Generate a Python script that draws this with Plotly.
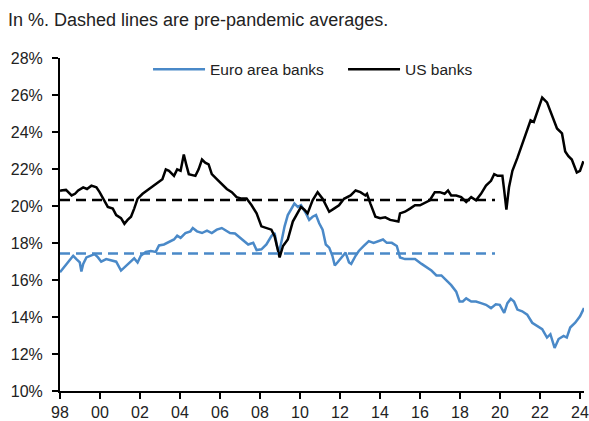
import plotly.graph_objects as go

# ---------------- data ----------------
us_t = [1998.0, 1998.05, 1998.3, 1998.58, 1998.75, 1998.91, 1999.16, 1999.35, 1999.57, 1999.82,
        1999.98, 2000.15, 2000.39, 2000.64, 2000.81, 2001.05, 2001.22, 2001.38, 2001.55, 2001.71,
        2001.88, 2002.13, 2002.46, 2002.79, 2003.12, 2003.29, 2003.45, 2003.7, 2003.86, 2004.03,
        2004.11, 2004.19, 2004.31, 2004.44, 2004.77, 2004.93, 2005.1, 2005.26, 2005.43, 2005.59,
        2005.84, 2006.09, 2006.34, 2006.59, 2006.83, 2007.08, 2007.33, 2007.58, 2007.83, 2008.07,
        2008.32, 2008.57, 2008.73, 2008.9, 2008.98, 2009.15, 2009.39, 2009.64, 2009.89, 2010.05,
        2010.22, 2010.38, 2010.63, 2010.88, 2011.13, 2011.46, 2011.7, 2011.95, 2012.2, 2012.53,
        2012.78, 2013.02, 2013.27, 2013.35, 2013.52, 2013.77, 2014.01, 2014.26, 2014.51, 2014.76,
        2014.92, 2015.0, 2015.25, 2015.5, 2015.75, 2016.0, 2016.24, 2016.49, 2016.74, 2016.99,
        2017.23, 2017.4, 2017.56, 2017.81, 2018.06, 2018.31, 2018.56, 2018.8, 2019.05, 2019.3,
        2019.55, 2019.71, 2019.88, 2020.12, 2020.21, 2020.32, 2020.45, 2020.62, 2020.87, 2021.11,
        2021.36, 2021.53, 2021.69, 2021.86, 2022.11, 2022.35, 2022.6, 2022.85, 2023.1, 2023.26,
        2023.42, 2023.59, 2023.84, 2024.0, 2024.17]
us_v = [20.8, 20.84, 20.87, 20.57, 20.66, 20.84, 21.01, 20.92, 21.1, 21.01,
        20.75, 20.4, 19.95, 19.86, 19.51, 19.34, 19.04, 19.25, 19.42, 19.86,
        20.4, 20.66, 20.92, 21.19, 21.45, 21.98, 21.9, 21.63, 21.98, 21.9,
        22.34, 22.78, 22.25, 21.72, 21.63, 21.98, 22.51, 22.34, 22.25, 21.72,
        21.45, 21.19, 20.92, 20.75, 20.48, 20.4, 20.4, 20.04, 19.6, 18.9,
        18.81, 18.72, 18.37, 17.57, 17.22, 17.84, 18.19, 19.16, 19.6, 19.95,
        19.8, 19.6, 20.31, 20.75, 20.39, 19.69, 19.86, 20.04, 20.39, 20.57,
        20.84, 20.75, 20.57, 20.66, 20.13, 19.42, 19.34, 19.39, 19.25, 19.21,
        19.16, 19.6, 19.69, 19.86, 20.04, 20.04, 20.16, 20.31, 20.75, 20.75,
        20.66, 20.84, 20.57, 20.57, 20.48, 20.22, 20.48, 20.31, 20.66, 21.1,
        21.36, 21.72, 21.63, 21.63, 20.84, 19.81, 21.01, 21.9, 22.6, 23.31,
        24.01, 24.63, 24.54, 25.07, 25.86, 25.6, 24.89, 24.19, 23.92, 22.95,
        22.69, 22.51, 21.81, 21.9, 22.42]

ea_t = [1998.0, 1998.25, 1998.49, 1998.66, 1998.82, 1998.99, 1999.07, 1999.16, 1999.32, 1999.49,
        1999.73, 1999.9, 2000.06, 2000.31, 2000.56, 2000.81, 2001.05, 2001.22, 2001.47, 2001.71,
        2001.88, 2002.04, 2002.29, 2002.54, 2002.79, 2002.95, 2003.2, 2003.45, 2003.7, 2003.86,
        2004.03, 2004.27, 2004.52, 2004.64, 2004.85, 2005.1, 2005.35, 2005.59, 2005.84, 2006.09,
        2006.34, 2006.5, 2006.75, 2007.0, 2007.16, 2007.41, 2007.66, 2007.83, 2008.07, 2008.32,
        2008.57, 2008.73, 2008.85, 2008.95, 2009.06, 2009.23, 2009.39, 2009.56, 2009.72, 2009.89,
        2010.05, 2010.3, 2010.46, 2010.63, 2010.8, 2010.96, 2011.13, 2011.29, 2011.46, 2011.62,
        2011.74, 2011.87, 2012.12, 2012.28, 2012.45, 2012.56, 2012.78, 2012.94, 2013.19, 2013.44,
        2013.68, 2013.93, 2014.15, 2014.34, 2014.59, 2014.84, 2015.0, 2015.25, 2015.5, 2015.75,
        2016.08, 2016.33, 2016.57, 2016.82, 2017.07, 2017.32, 2017.56, 2017.81, 2017.98, 2018.14,
        2018.31, 2018.56, 2018.8, 2019.05, 2019.3, 2019.55, 2019.79, 2019.99, 2020.21, 2020.37,
        2020.54, 2020.7, 2020.87, 2021.11, 2021.36, 2021.61, 2021.86, 2022.11, 2022.35, 2022.52,
        2022.73, 2022.93, 2023.18, 2023.34, 2023.51, 2023.76, 2024.0, 2024.2]
ea_v = [16.42, 16.78, 17.13, 17.31, 17.13, 16.95, 16.46, 16.87, 17.22, 17.31,
        17.4, 17.22, 16.99, 17.13, 17.04, 16.99, 16.51, 16.69, 16.95, 17.17,
        16.95, 17.31, 17.52, 17.57, 17.52, 17.87, 17.92, 18.05, 18.19, 18.4,
        18.28, 18.54, 18.63, 18.81, 18.63, 18.54, 18.67, 18.54, 18.72, 18.81,
        18.63, 18.54, 18.51, 18.28, 18.1, 17.92, 18.01, 17.62, 17.66, 17.92,
        18.37, 18.54, 17.84, 17.48, 18.01, 18.9, 19.51, 19.86, 20.13, 19.95,
        20.04, 19.6, 19.25, 19.42, 19.51, 19.07, 18.72, 17.92, 17.75, 17.31,
        16.78, 16.95, 17.31, 17.48, 16.95, 16.87, 17.31, 17.57, 17.84, 18.1,
        18.01, 18.1, 18.19, 18.01, 18.01, 17.84, 17.22, 17.13, 17.13, 17.13,
        16.87, 16.69, 16.51, 16.25, 16.25, 15.98, 15.72, 15.37, 14.84, 14.84,
        15.01, 14.84, 14.84, 14.75, 14.66, 14.48, 14.69, 14.66, 14.22, 14.75,
        14.98, 14.84, 14.4, 14.31, 14.13, 13.69, 13.51, 13.34, 12.89, 13.07,
        12.33, 12.81, 12.98, 12.89, 13.43, 13.69, 14.04, 14.48]

avg_t = [1998.0, 2019.75]
us_avg = [20.33, 20.33]
ea_avg = [17.43, 17.43]

x_tickvals = [1998, 2000, 2002, 2004, 2006, 2008, 2010, 2012, 2014, 2016, 2018, 2020, 2022, 2024]
x_ticktext = ["98", "00", "02", "04", "06", "08", "10", "12", "14", "16", "18", "20", "22", "24"]
y_tickvals = [10, 12, 14, 16, 18, 20, 22, 24, 26, 28]
y_ticktext = ["10%", "12%", "14%", "16%", "18%", "20%", "22%", "24%", "26%", "28%"]

title_text = "In %. Dashed lines are pre-pandemic averages."

# ---------------- figure ----------------
BLUE = "#4A89C8"
FONT = "Liberation Sans, Arial, sans-serif"
TXT = "#222222"

fig = go.Figure()
fig.add_trace(go.Scatter(x=ea_t, y=ea_v, mode="lines", name="Euro area banks",
                         line=dict(color=BLUE, width=2.5)))
fig.add_trace(go.Scatter(x=us_t, y=us_v, mode="lines", name="US banks",
                         line=dict(color="black", width=2.5)))
fig.add_trace(go.Scatter(x=avg_t, y=ea_avg, mode="lines", showlegend=False,
                         line=dict(color=BLUE, width=2.5, dash="10px,6px")))
fig.add_trace(go.Scatter(x=avg_t, y=us_avg, mode="lines", showlegend=False,
                         line=dict(color="black", width=2.5, dash="10px,6px")))

fig.update_layout(
    width=589, height=421,
    margin=dict(l=60, r=0, t=58, b=23),
    paper_bgcolor="white", plot_bgcolor="white",
    font=dict(family=FONT, size=16, color=TXT),
    title=dict(text=title_text, xref="container", yref="container",
               x=8 / 589, y=1 - 20 / 421, xanchor="left", yanchor="middle",
               font=dict(family=FONT, size=18, color=TXT)),
    legend=dict(orientation="h", x=0.168, y=0.965, xanchor="left", yanchor="middle",
                bgcolor="rgba(0,0,0,0)", font=dict(size=15.5, color=TXT), itemwidth=52,
                entrywidth=128, entrywidthmode="pixels", traceorder="normal"),
    showlegend=True,
)
fig.update_xaxes(range=[1998, 2024.2], tickvals=x_tickvals, ticktext=x_ticktext,
                 showgrid=False, zeroline=False, showline=True, linecolor="black", linewidth=2,
                 ticks="outside", ticklen=6, tickwidth=2, tickcolor="black",
                 ticklabeloverflow="allow",
                 tickfont=dict(size=16, color=TXT))
fig.update_yaxes(range=[10, 28], tickvals=y_tickvals, ticktext=y_ticktext,
                 showgrid=False, zeroline=False, showline=True, linecolor="black", linewidth=2,
                 ticks="outside", ticklen=6, tickwidth=2, tickcolor="black",
                 ticklabelstandoff=6,
                 tickfont=dict(size=16, color=TXT))

fig.write_html("out.html", config={"displayModeBar": False},
               post_script="document.body.style.margin='0';")
